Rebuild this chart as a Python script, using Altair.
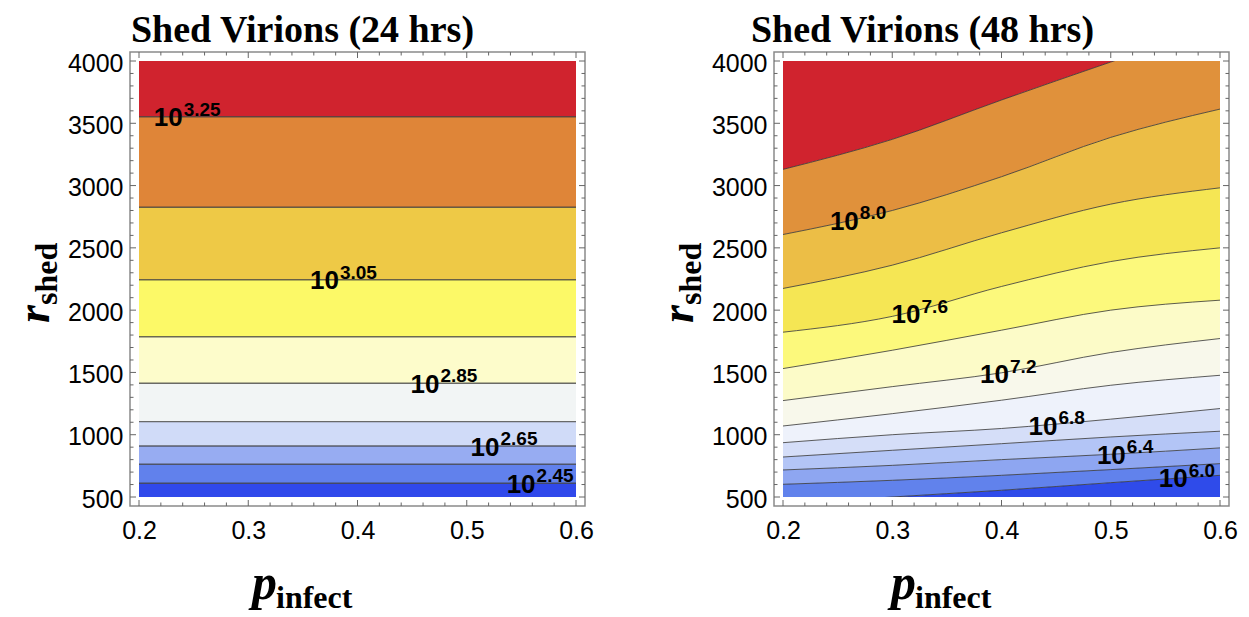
import altair as alt
import pandas as pd

W, H = 437, 436
FR = 9  # frame distance from plot region

P_DOMAIN = [0.2, 0.6]
R_DOMAIN = [500, 4000]

X_MAJOR = [0.2, 0.3, 0.4, 0.5, 0.6]
X_MINOR = [0.22, 0.24, 0.26, 0.28, 0.32, 0.34, 0.36, 0.38, 0.42, 0.44, 0.46, 0.48,
           0.52, 0.54, 0.56, 0.58]
Y_MAJOR = [500, 1000, 1500, 2000, 2500, 3000, 3500, 4000]
Y_MINOR = [600, 700, 800, 900, 1100, 1200, 1300, 1400, 1600, 1700, 1800, 1900,
           2100, 2200, 2300, 2400, 2600, 2700, 2800, 2900, 3100, 3200, 3300, 3400,
           3600, 3700, 3800, 3900]

# ---- left panel (24 hrs): horizontal contour levels ----
LEFT_LEVELS = ["2.45", "2.55", "2.65", "2.75", "2.85", "2.95", "3.05", "3.15", "3.25"]
LEFT_CONTOUR_R = [610, 763, 909, 1105, 1413, 1787, 2244, 2826, 3553]
LEFT_BAND_COLORS = ["#3049EB", "#6181EC", "#97ACF2", "#D0DBF8", "#F2F5F5",
                    "#FDFCCB", "#FCF967", "#EEC946", "#DF8538", "#D0232E"]
LEFT_LABEL_EXP = ["3.25", "3.05", "2.85", "2.65", "2.45"]
LEFT_LABEL_P = [0.240, 0.383, 0.475, 0.530, 0.563]
LEFT_LABEL_R = [3553, 2244, 1413, 909, 610]

# ---- right panel (48 hrs): contour lines read at p = 0.2 .. 0.6 ----
RIGHT_P = [0.2, 0.3, 0.4, 0.5, 0.6]
RIGHT_LEVELS = ["6.0", "6.2", "6.4", "6.6", "6.8", "7.0", "7.2", "7.4", "7.6", "7.8", "8.0", "8.2"]
RIGHT_CONTOUR_R = [
    [441, 500, 554, 615, 674],
    [602, 634, 674, 720, 768],
    [717, 754, 800, 843, 894],
    [821, 875, 928, 982, 1028],
    [936, 1000, 1050, 1125, 1210],
    [1070, 1169, 1277, 1397, 1477],
    [1274, 1386, 1497, 1660, 1772],
    [1531, 1678, 1839, 2000, 2080],
    [1823, 1950, 2190, 2390, 2500],
    [2174, 2361, 2621, 2851, 2982],
    [2607, 2800, 3071, 3387, 3614],
    [3130, 3371, 3687, 3992, 4290],
]
RIGHT_BAND_COLORS = ["#2F4BEA", "#6182EC", "#8EA6F1", "#B3C5F6", "#D5DEF8", "#EEF2FB",
                     "#F8F8EB", "#FCFBC8", "#FCF97C", "#F5E654", "#ECBE46", "#E0913B",
                     "#D0232E"]
RIGHT_LABEL_EXP = ["8.0", "7.6", "7.2", "6.8", "6.4", "6.0"]
RIGHT_LABEL_P = [0.2694, 0.3259, 0.4069, 0.4512, 0.5138, 0.5704]
RIGHT_LABEL_R = [2723, 1973, 1491, 1076, 843, 655]

SANS = "Liberation Sans"
SERIF = "Liberation Serif"

X_AXIS = alt.Axis(values=X_MAJOR, format=".1f", title=None, domain=False, ticks=False,
                  tickSize=0, grid=False, labelFont=SANS, labelFontSize=25,
                  labelColor="black", labelPadding=12, offset=FR, labelFlush=False,
                  labelOverlap=False)
Y_AXIS = alt.Axis(values=Y_MAJOR, format="d", title=None, domain=False, ticks=False,
                  tickSize=0, grid=False, labelFont=SANS, labelFontSize=25,
                  labelColor="black", labelPadding=7, offset=FR, labelFlush=False,
                  labelOverlap=False, labelOffset=2)


def xenc(field):
    return alt.X(f"{field}:Q", scale=alt.Scale(domain=P_DOMAIN, nice=False, zero=False),
                 axis=X_AXIS)


def yenc(field, **kw):
    return alt.Y(f"{field}:Q", scale=alt.Scale(domain=R_DOMAIN, nice=False, zero=False),
                 axis=Y_AXIS, **kw)


one = pd.DataFrame({"a": [0]})


def frame_layers():
    layers = []
    layers.append(alt.Chart(one).mark_rect(fillOpacity=0, stroke="#8a8a8a", strokeWidth=1.5).encode(
        x=alt.value(-FR), x2=alt.value(W + FR), y=alt.value(-FR), y2=alt.value(H + FR)))
    for vals, ln in ((X_MAJOR, 6), (X_MINOR, 3.5)):
        d = pd.DataFrame({"v": vals})
        base = alt.Chart(d).mark_rule(color="#666666", strokeWidth=1)
        layers.append(base.encode(x=xenc("v"), y=alt.value(H + FR), y2=alt.value(H + FR - ln)))
        layers.append(base.encode(x=xenc("v"), y=alt.value(-FR), y2=alt.value(-FR + ln)))
    for vals, ln in ((Y_MAJOR, 6), (Y_MINOR, 3.5)):
        d = pd.DataFrame({"v": vals})
        base = alt.Chart(d).mark_rule(color="#666666", strokeWidth=1)
        layers.append(base.encode(y=yenc("v"), x=alt.value(-FR), x2=alt.value(-FR + ln)))
        layers.append(base.encode(y=yenc("v"), x=alt.value(W + FR), x2=alt.value(W + FR - ln)))
    return layers


def text_layers(title, title_x, xt_x, yt_x, lab_p, lab_r, lab_e):
    layers = []
    lab = pd.DataFrame({"p": lab_p, "r": lab_r, "e": lab_e})
    layers.append(alt.Chart(lab).mark_text(text="10", align="right", baseline="middle", dy=1.5,
                                           font=SANS, fontSize=26, fontWeight="bold",
                                           color="black").encode(x=xenc("p"), y=yenc("r")))
    layers.append(alt.Chart(lab).mark_text(align="left", baseline="middle", dx=1, dy=-7,
                                           font=SANS, fontSize=19, fontWeight="bold",
                                           color="black").encode(x=xenc("p"), y=yenc("r"),
                                                                 text="e:N"))
    layers.append(alt.Chart(one).mark_text(text=title, align="center", baseline="alphabetic",
                                           font=SERIF, fontSize=38, fontWeight="bold",
                                           color="black").encode(x=alt.value(title_x),
                                                                 y=alt.value(-19)))
    # x title: p_infect
    layers.append(alt.Chart(one).mark_text(text="p", align="left", baseline="alphabetic",
                                           font=SERIF, fontSize=50, fontWeight="bold",
                                           fontStyle="italic", color="black").encode(
        x=alt.value(xt_x), y=alt.value(538)))
    layers.append(alt.Chart(one).mark_text(text="infect", align="left", baseline="alphabetic",
                                           font=SERIF, fontSize=32, fontWeight="bold",
                                           color="black").encode(
        x=alt.value(xt_x + 24), y=alt.value(547)))
    # y title: r_shed (rotated)
    layers.append(alt.Chart(one).mark_text(text="r", align="left", baseline="alphabetic",
                                           angle=270, font=SERIF, fontSize=46, fontWeight="bold",
                                           fontStyle="italic", color="black").encode(
        x=alt.value(yt_x), y=alt.value(262)))
    layers.append(alt.Chart(one).mark_text(text="shed", align="left", baseline="alphabetic",
                                           angle=270, font=SERIF, fontSize=32, fontWeight="bold",
                                           color="black").encode(
        x=alt.value(yt_x + 8), y=alt.value(244)))
    return layers


# ---------- left panel ----------
left_bounds = [R_DOMAIN[0]] + LEFT_CONTOUR_R + [R_DOMAIN[1]]
left_names = [f"L{i:02d}" for i in range(len(LEFT_BAND_COLORS))]
left_bands = pd.DataFrame({"lo": left_bounds[:-1], "hi": left_bounds[1:], "band": left_names})
left_lines = pd.DataFrame({"r": LEFT_CONTOUR_R, "level": LEFT_LEVELS})

left_fill = alt.Chart(left_bands).mark_rect().encode(
    y=yenc("lo"), y2="hi",
    color=alt.Color("band:N", scale=alt.Scale(domain=left_names, range=LEFT_BAND_COLORS),
                    legend=None))
left_rules = alt.Chart(left_lines).mark_rule(color="#3a3a3a", strokeOpacity=0.75,
                                             strokeWidth=1.4).encode(y=yenc("r"))

left = alt.layer(
    left_fill, left_rules, *frame_layers(),
    *text_layers("Shed Virions (24 hrs)", 163.5, 113, -90,
                 LEFT_LABEL_P, LEFT_LABEL_R, LEFT_LABEL_EXP)
).properties(width=W, height=H)

# ---------- right panel ----------
n = len(RIGHT_P)
band_rows = []
curves = [[R_DOMAIN[0]] * n] + RIGHT_CONTOUR_R + [[R_DOMAIN[1]] * n]
right_names = [f"R{i:02d}" for i in range(len(RIGHT_BAND_COLORS))]
for i in range(len(curves) - 1):
    for j in range(n):
        band_rows.append({"p": RIGHT_P[j], "lo": curves[i][j], "hi": curves[i + 1][j],
                          "band": right_names[i]})
right_bands = pd.DataFrame(band_rows)
line_rows = []
for lev, vals in zip(RIGHT_LEVELS, RIGHT_CONTOUR_R):
    for j in range(n):
        line_rows.append({"p": RIGHT_P[j], "r": vals[j], "level": lev})
right_lines = pd.DataFrame(line_rows)

right_fill = alt.Chart(right_bands).mark_area(clip=True, interpolate="monotone").encode(
    x=xenc("p"), y=yenc("lo", stack=None), y2="hi",
    color=alt.Color("band:N", scale=alt.Scale(domain=right_names, range=RIGHT_BAND_COLORS),
                    legend=None))
right_curves = alt.Chart(right_lines).mark_line(clip=True, interpolate="monotone",
                                                color="#333333", strokeOpacity=0.8,
                                                strokeWidth=1.0).encode(
    x=xenc("p"), y=yenc("r"), detail="level:N")

right = alt.layer(
    right_fill, right_curves, *frame_layers(),
    *text_layers("Shed Virions (48 hrs)", 139.5, 108, -90,
                 RIGHT_LABEL_P, RIGHT_LABEL_R, RIGHT_LABEL_EXP)
).properties(width=W, height=H)

chart = alt.hconcat(left, right, spacing=207, bounds="flush").resolve_scale(
    color="independent"
).properties(
    padding={"left": 4, "top": 4, "right": 0, "bottom": 0}
).configure_view(strokeOpacity=0)

chart.save("out.html", embed_options={"renderer": "svg", "actions": False})
